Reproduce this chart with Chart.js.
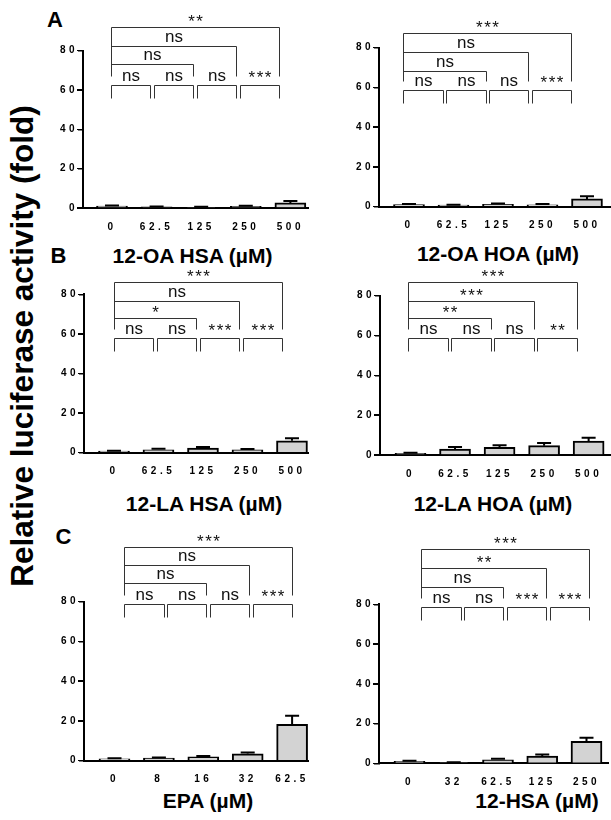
<!DOCTYPE html>
<html>
<head>
<meta charset="utf-8">
<script src="https://cdn.jsdelivr.net/npm/chart.js@4.4.1/dist/chart.umd.min.js"></script>
<style>
  html, body { margin:0; padding:0; background:#fff; }
  body { width:611px; height:820px; position:relative; overflow:hidden; font-family:'Liberation Sans', Arial, sans-serif; }
  canvas { position:absolute; }
  .t { position:absolute; transform:translate(-50%,-50%); white-space:nowrap; line-height:1; color:#000; font-weight:bold; }
  .xt { font-size:21px; }
  .pl { font-size:22px; }
  .ax { position:absolute; background:#000; }
  #ytitle { position:absolute; left:23px; top:346px; transform:translate(-50%,-50%) rotate(-90deg); white-space:nowrap; line-height:1; font-weight:bold; font-size:31.5px; }
</style>
</head>
<body>
<div id="ytitle">Relative luciferase activity (fold)</div>
<div class="t pl" style="left:55px;top:20px">A</div>
<div class="t pl" style="left:58.5px;top:256px">B</div>
<div class="t pl" style="left:63.5px;top:536.5px">C</div>
<div class="t xt" style="left:192.5px;top:255px">12-OA HSA (µM)</div>
<div class="t xt" style="left:498px;top:253px">12-OA HOA (µM)</div>
<div class="t xt" style="left:204px;top:503px">12-LA HSA (µM)</div>
<div class="t xt" style="left:493px;top:503px">12-LA HOA (µM)</div>
<div class="t xt" style="left:208px;top:800px">EPA (µM)</div>
<div class="t xt" style="left:537px;top:800px">12-HSA (µM)</div>

<canvas id="c0"></canvas>
<canvas id="c1"></canvas>
<canvas id="c2"></canvas>
<canvas id="c3"></canvas>
<canvas id="c4"></canvas>
<canvas id="c5"></canvas>

<script>
// ---------------- data ----------------
const doseOA  = ['0', '62.5', '125', '250', '500'];
const doseLA  = ['0', '62.5', '125', '250', '500'];
const doseEPA = ['0', '8', '16', '32', '62.5'];
const doseHSA = ['0', '32', '62.5', '125', '250'];

const oaHsaMean = [1.0, 0.6, 0.4, 0.9, 2.6];
const oaHsaErr  = [0.3, 0.2, 0.2, 0.3, 0.9];
const oaHoaMean = [1.1, 0.8, 1.2, 1.0, 3.9];
const oaHoaErr  = [0.3, 0.2, 0.4, 0.3, 1.4];
const laHsaMean = [0.8, 1.5, 2.3, 1.5, 6.0];
const laHsaErr  = [0.2, 0.5, 0.6, 0.4, 1.3];
const laHoaMean = [0.9, 3.0, 3.9, 4.7, 7.0];
const laHoaErr  = [0.2, 1.0, 1.0, 1.3, 1.7];
const epaMean   = [1.0, 1.3, 2.0, 3.5, 18.3];
const epaErr    = [0.2, 0.3, 0.4, 0.6, 4.3];
const hsaMean   = [1.0, 0.4, 1.8, 3.6, 11.0];
const hsaErr    = [0.3, 0.1, 0.5, 0.8, 1.8];

const yTicks = [0, 20, 40, 60, 80];

// significance: neighbouring doses, and each dose vs control (index, label)
const oaHsaAdj = ['ns', 'ns', 'ns', '***'];
const oaHsaCtl = [[2, 'ns'], [3, 'ns'], [4, '**']];
const oaHoaAdj = ['ns', 'ns', 'ns', '***'];
const oaHoaCtl = [[2, 'ns'], [3, 'ns'], [4, '***']];
const laHsaAdj = ['ns', 'ns', '***', '***'];
const laHsaCtl = [[2, '*'], [3, 'ns'], [4, '***']];
const laHoaAdj = ['ns', 'ns', 'ns', '**'];
const laHoaCtl = [[2, '**'], [3, '***'], [4, '***']];
const epaAdj   = ['ns', 'ns', 'ns', '***'];
const epaCtl   = [[2, 'ns'], [3, 'ns'], [4, '***']];
const hsaAdj   = ['ns', 'ns', '***', '***'];
const hsaCtl   = [[2, 'ns'], [3, '**'], [4, '***']];

// ---------------- layout ----------------
const panels = [
  { id:'c0', labels:doseOA,  mean:oaHsaMean, err:oaHsaErr, adj:oaHsaAdj, ctl:oaHsaCtl,
    box:{x:0, y:0, w:311, h:240}, area:{l:83, t:50.7, r:308, b:208}, xr:[-0.65, 4.395],
    shift:-0.03, adjTop:62.6, adjLeg:56.1, levels:[73.2, 82.6, 92.2] },
  { id:'c1', labels:doseOA,  mean:oaHoaMean, err:oaHoaErr, adj:oaHoaAdj, ctl:oaHoaCtl,
    box:{x:300, y:0, w:311, h:240}, area:{l:379, t:47.7, r:610, b:206.7}, xr:[-0.674, 4.517],
    shift:-0.13, adjTop:58.7, adjLeg:52.0, levels:[68.3, 77.7, 87.2] },
  { id:'c2', labels:doseLA,  mean:laHsaMean, err:laHsaErr, adj:laHsaAdj, ctl:laHsaCtl,
    box:{x:0, y:262, w:311, h:225}, area:{l:84, t:294.3, r:308, b:452.7}, xr:[-0.674, 4.36],
    shift:0.0, adjTop:57.8, adjLeg:51.5, levels:[68.2, 76.6, 86.0] },
  { id:'c3', labels:doseLA,  mean:laHoaMean, err:laHoaErr, adj:laHoaAdj, ctl:laHoaCtl,
    box:{x:300, y:262, w:311, h:225}, area:{l:380, t:295.7, r:610, b:455}, xr:[-0.685, 4.48],
    shift:-0.05, adjTop:58.6, adjLeg:52.4, levels:[69.0, 77.4, 86.8] },
  { id:'c4', labels:doseEPA, mean:epaMean, err:epaErr, adj:epaAdj, ctl:epaCtl,
    box:{x:0, y:522, w:311, h:270}, area:{l:84, t:601.7, r:308, b:760.7}, xr:[-0.687, 4.358],
    shift:0.22, adjTop:78.7, adjLeg:72.5, levels:[89.3, 98.4, 107.7] },
  { id:'c5', labels:doseHSA, mean:hsaMean, err:hsaErr, adj:hsaAdj, ctl:hsaCtl,
    box:{x:300, y:522, w:311, h:270}, area:{l:379, t:604.3, r:608, b:763.3}, xr:[-0.689, 4.486],
    shift:0.27, adjTop:78.5, adjLeg:72.1, levels:[88.9, 98.1, 107.7] }
];

const FONT = "'Liberation Sans', Arial, sans-serif";
const Y_W = 40;

function makePlugin(p) {
  return {
    id: 'sig_' + p.id,
    beforeDraw(chart) { chart.ctx.letterSpacing = '3.5px'; },
    beforeDatasetsDraw(chart) { chart.ctx.letterSpacing = '0px'; },
    afterDatasetsDraw(chart) {
      const ctx = chart.ctx, xs = chart.scales.x, ys = chart.scales.y;
      ctx.save();
      ctx.strokeStyle = '#000';
      ctx.lineWidth = 2;
      p.mean.forEach((m, i) => {
        const x = xs.getPixelForValue(i);
        const y1 = ys.getPixelForValue(m);
        const y2 = ys.getPixelForValue(m + p.err[i]);
        ctx.beginPath();
        ctx.moveTo(x, y1); ctx.lineTo(x, y2);
        ctx.moveTo(x - 7, y2); ctx.lineTo(x + 7, y2);
        ctx.stroke();
      });
      ctx.restore();
    },
    afterDraw(chart) {
      const ctx = chart.ctx, xs = chart.scales.x, ys = chart.scales.y;
      const X = v => Math.round(xs.getPixelForValue(v)) + 0.5;
      const Y = v => Math.round(ys.getPixelForValue(v)) + 0.5;
      const leftK = k => p.shift + 0.965 * k;
      const rightK = k => leftK(k) + 0.885;
      ctx.save();
      ctx.letterSpacing = '0px';
      ctx.strokeStyle = '#333';
      ctx.lineWidth = 1;
      ctx.fillStyle = '#111';
      ctx.textAlign = 'center';
      ctx.textBaseline = 'alphabetic';
      ctx.font = '17px ' + FONT;
      const label = (txt, cx, lineY, adjacent) => {
        const ns = txt === 'ns';
        ctx.letterSpacing = ns ? '0px' : '1.5px';
        const off = ns ? (adjacent ? 5 : 4.5) : (adjacent ? 2.5 : 0.5);
        ctx.fillText(txt, cx + (ns ? 0 : 0.75), lineY - off);
      };
      // neighbouring comparisons
      p.adj.forEach((txt, k) => {
        const l = X(leftK(k)), r = X(rightK(k));
        const t = Y(p.adjTop), b = Y(p.adjLeg);
        ctx.beginPath();
        ctx.moveTo(l, b); ctx.lineTo(l, t); ctx.lineTo(r, t); ctx.lineTo(r, b);
        ctx.stroke();
        label(txt, (l + r) / 2, t, true);
      });
      // comparisons vs control
      const legEnd = Y(p.adjTop + 4.5);
      const l0 = X(leftK(0));
      const topLevel = Y(p.levels[p.levels.length - 1]);
      ctx.beginPath();
      ctx.moveTo(l0, legEnd); ctx.lineTo(l0, topLevel);
      ctx.stroke();
      p.ctl.forEach(([j, txt], n) => {
        const ly = Y(p.levels[n]);
        const r = X(rightK(j - 1));
        ctx.beginPath();
        ctx.moveTo(l0, ly); ctx.lineTo(r, ly); ctx.lineTo(r, legEnd);
        ctx.stroke();
        label(txt, (l0 + r) / 2, ly, false);
      });
      ctx.restore();
    }
  };
}

// value-axis rule and tick marks, positioned from each chart's y scale
function addAxisOverlay(chart, p) {
  const ys = chart.scales.y;
  const ax = p.box.x + Math.round(chart.chartArea.left);
  const yTop = p.box.y + ys.getPixelForValue(80);
  const yBot = p.box.y + ys.getPixelForValue(0);
  const mk = (l, t, w, h) => {
    const d = document.createElement('div');
    d.className = 'ax';
    d.style.left = l + 'px'; d.style.top = t + 'px';
    d.style.width = w + 'px'; d.style.height = h + 'px';
    document.body.appendChild(d);
  };
  mk(ax - 1, yTop - 1, 2, yBot - yTop + 2);
  yTicks.forEach(v => {
    const ty = p.box.y + ys.getPixelForValue(v);
    mk(ax - 6, ty - 0.75, 6, 1.5);
  });
}

panels.forEach(p => {
  const cv = document.getElementById(p.id);
  cv.width = p.box.w; cv.height = p.box.h;
  cv.style.left = p.box.x + 'px'; cv.style.top = p.box.y + 'px';
  const aL = p.area.l - p.box.x, aR = p.area.r - p.box.x;
  const aT = p.area.t - p.box.y, aB = p.area.b - p.box.y;
  const chart = new Chart(cv, {
    type: 'bar',
    data: {
      datasets: [{
        data: p.mean.map((v, i) => ({ x: i, y: v })),
        backgroundColor: '#d3d3d3',
        borderColor: '#000',
        borderWidth: 2,
        barThickness: 31
      }]
    },
    options: {
      responsive: false,
      animation: false,
      layout: { padding: { left: aL - Y_W, top: aT, right: p.box.w - aR, bottom: 0 } },
      plugins: { legend: { display: false }, tooltip: { enabled: false } },
      scales: {
        x: {
          type: 'linear',
          offset: false,
          min: p.xr[0], max: p.xr[1],
          afterBuildTicks: s => { s.ticks = p.labels.map((_, i) => ({ value: i })); },
          afterFit: s => { s.height = p.box.h - aB; s.paddingLeft = 0; s.paddingRight = 0; },
          ticks: {
            autoSkip: false, maxRotation: 0, padding: 13, color: '#000',
            font: { family: FONT, size: 10, weight: 'bold' },
            callback: v => p.labels[Math.round(v)]
          },
          grid: { offset: false, drawOnChartArea: false, drawTicks: false, color: '#000' },
          border: { color: '#000', width: 2 }
        },
        y: {
          min: 0, max: 80,
          afterBuildTicks: s => { s.ticks = yTicks.map(v => ({ value: v })); },
          afterFit: s => { s.width = Y_W; },
          ticks: {
            padding: 0, color: '#000',
            font: { family: FONT, size: 10, weight: 'bold' }
          },
          grid: { drawOnChartArea: false, tickLength: 5, color: '#000', lineWidth: 1.5 },
          border: { color: '#000', width: 2 }
        }
      }
    },
    plugins: [makePlugin(p)]
  });
  try { addAxisOverlay(chart, p); } catch (e) {}
});
</script>
</body>
</html>
